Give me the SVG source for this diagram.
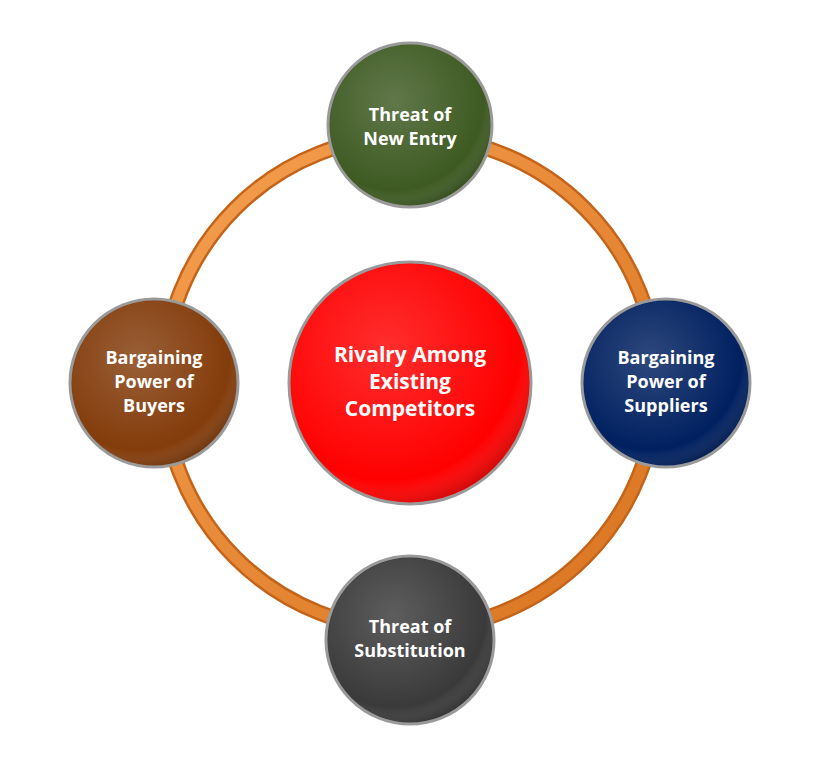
<svg xmlns="http://www.w3.org/2000/svg" width="820" height="766" viewBox="0 0 820 766">
<defs>
<radialGradient id="sh" cx="0.4" cy="0.35" r="0.7">
<stop offset="0" stop-color="#fff" stop-opacity="0.18"/>
<stop offset="0.8" stop-color="#fff" stop-opacity="0"/>
<stop offset="1" stop-color="#000" stop-opacity="0.25"/>
</radialGradient>
<linearGradient id="ring" x1="0" y1="0" x2="1" y2="1">
<stop offset="0" stop-color="#f5a050"/>
<stop offset="1" stop-color="#d9731f"/>
</linearGradient>
</defs>
<style>
.n{stroke:#9a9a9a;stroke-width:3}
.t{font-family:"Open Sans","Liberation Sans",sans-serif;font-weight:bold;fill:#fff;text-anchor:middle;font-size:18px}
.tc{font-size:21px}
</style>
<rect width="820" height="766" fill="#fff"/>
<g id="connectors">
<circle cx="410" cy="383" r="247" fill="none" stroke="#c4641a" stroke-width="16"/>
<circle cx="410" cy="383" r="247" fill="none" stroke="url(#ring)" stroke-width="11"/>
</g>
<g id="center">
<circle cx="410" cy="383" r="121" fill="#ff0000" class="n"/>
<circle cx="410" cy="383" r="119" fill="url(#sh)"/>
<text class="t tc" x="410" y="362">Rivalry Among</text>
<text class="t tc" x="410" y="389">Existing</text>
<text class="t tc" x="410" y="416">Competitors</text>
</g>
<g id="top">
<circle cx="410" cy="125" r="82" fill="#3e5a22" class="n"/>
<circle cx="410" cy="125" r="80" fill="url(#sh)"/>
<text class="t" x="410" y="121">Threat of</text>
<text class="t" x="410" y="145">New Entry</text>
</g>
<g id="left">
<circle cx="154" cy="383" r="84" fill="#833c0b" class="n"/>
<circle cx="154" cy="383" r="82" fill="url(#sh)"/>
<text class="t" x="154" y="364">Bargaining</text>
<text class="t" x="154" y="388">Power of</text>
<text class="t" x="154" y="412">Buyers</text>
</g>
<g id="right">
<circle cx="666" cy="383" r="84" fill="#002060" class="n"/>
<circle cx="666" cy="383" r="82" fill="url(#sh)"/>
<text class="t" x="666" y="364">Bargaining</text>
<text class="t" x="666" y="388">Power of</text>
<text class="t" x="666" y="412">Suppliers</text>
</g>
<g id="bottom">
<circle cx="410" cy="640" r="84" fill="#3a3a3a" class="n"/>
<circle cx="410" cy="640" r="82" fill="url(#sh)"/>
<text class="t" x="410" y="633">Threat of</text>
<text class="t" x="410" y="657">Substitution</text>
</g>
</svg>
